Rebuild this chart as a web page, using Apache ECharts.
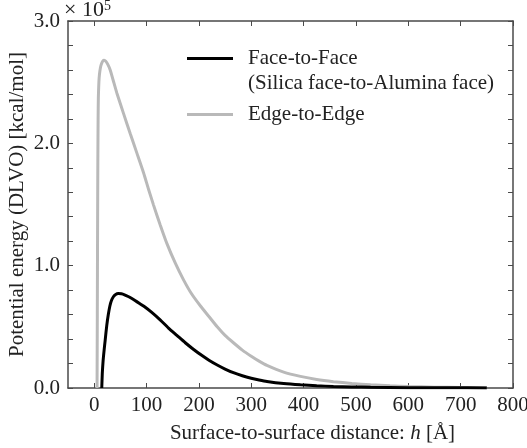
<!DOCTYPE html>
<html>
<head>
<meta charset="utf-8">
<script src="https://cdn.jsdelivr.net/npm/echarts@6/dist/echarts.min.js"></script>
<style>html,body{margin:0;padding:0;background:#fff}#c{width:527px;height:448px}</style>
</head>
<body>
<div id="c"></div>
<script>
// Surface-to-surface distance h [Å] and potential energy (×10^5 kcal/mol)
var faceH = [14.5, 15.5, 17, 19, 21, 24, 27, 30, 33, 37, 41, 46, 52, 58, 65, 72, 78, 86, 95, 110, 126, 142, 158, 174, 190, 206, 220, 235, 250, 266, 283, 300, 315, 330, 362, 394, 425, 457, 492, 528, 600, 680, 750];
var faceV = [0, 0.12, 0.22, 0.31, 0.39, 0.51, 0.60, 0.67, 0.715, 0.748, 0.765, 0.772, 0.77, 0.762, 0.748, 0.731, 0.715, 0.693, 0.668, 0.618, 0.557, 0.49, 0.43, 0.37, 0.315, 0.265, 0.225, 0.188, 0.155, 0.125, 0.10, 0.08, 0.066, 0.054, 0.037, 0.026, 0.018, 0.013, 0.009, 0.006, 0.003, 0.0015, 0.001];
var edgeH = [5.5, 6, 6.5, 7, 7.5, 8, 9, 10, 12, 14, 16.5, 19, 22, 26, 30.6, 36, 43.4, 56, 68.8, 81.6, 94.3, 103.8, 113.4, 126, 139, 155, 170.7, 186, 203, 220, 235, 250, 266, 283, 300, 315, 330, 362, 394, 425, 457, 492, 528, 565, 600, 650, 700, 750];
var edgeV = [0, 0.6, 1.3, 1.85, 2.2, 2.38, 2.5, 2.56, 2.62, 2.65, 2.673, 2.68, 2.672, 2.645, 2.60, 2.52, 2.41, 2.245, 2.08, 1.92, 1.76, 1.625, 1.495, 1.335, 1.18, 1.02, 0.884, 0.77, 0.67, 0.58, 0.50, 0.43, 0.37, 0.31, 0.26, 0.22, 0.185, 0.13, 0.095, 0.07, 0.052, 0.037, 0.026, 0.018, 0.012, 0.007, 0.004, 0.002];
var xTicks = [0, 100, 200, 300, 400, 500, 600, 700, 800];
var yLabelValues = [0, 1, 2, 3];
var seriesNames = ['Face-to-Face', 'Edge-to-Edge'];
var faceSubtitle = '(Silica face-to-Alumina face)';

function pairs(h, v) { return h.map(function (x, i) { return [x, v[i]]; }); }

var FONT = 'Liberation Serif';
var FS = 21;
var AXC = '#4a4a4a';
var TXT = '#222';
var chart = echarts.init(document.getElementById('c'));
var yLabelFmt = function (v) {
  for (var i = 0; i < yLabelValues.length; i++) if (Math.abs(v - yLabelValues[i]) < 1e-6) return v.toFixed(1);
  return '';
};
chart.setOption({
  animation: false,
  backgroundColor: '#fff',
  grid: { left: 68, right: 14, top: 21, bottom: 60, containLabel: false, outerBoundsMode: 'none' },
  graphic: [
    { type: 'text', left: 64, top: -1, style: { text: '× 10{s|5}', font: '22px "Liberation Serif"', fill: TXT,
      rich: { s: { fontSize: 14, fontFamily: FONT, verticalAlign: 'top', padding: [0, 0, 9, 0] } } } },
    { type: 'text', left: 248, top: 73, style: { text: faceSubtitle, font: FS + 'px "Liberation Serif"', fill: TXT } }
  ],
  legend: [
    { data: [seriesNames[0]], left: 182, top: 43, itemWidth: 46, itemHeight: 3, icon: 'rect',
      textStyle: { fontFamily: FONT, fontSize: FS, color: TXT, padding: [0, 0, 0, 10] } },
    { data: [seriesNames[1]], left: 182, top: 99, itemWidth: 46, itemHeight: 3, icon: 'rect',
      textStyle: { fontFamily: FONT, fontSize: FS, color: TXT, padding: [0, 0, 0, 10] } }
  ],
  xAxis: [
    { type: 'value', min: -50, max: 800, position: 'bottom',
      name: 'Surface-to-surface distance: {i|h} [Å]', nameLocation: 'middle', nameGap: 35,
      nameTextStyle: { fontFamily: FONT, fontSize: FS, color: TXT, padding: [0, 0, 0, 44],
        rich: { i: { fontStyle: 'italic', fontFamily: FONT, fontSize: FS } } },
      axisLine: { onZero: false, lineStyle: { color: AXC, width: 1.5 } },
      axisTick: { inside: true, length: 5, customValues: xTicks, lineStyle: { color: AXC } },
      axisLabel: { customValues: xTicks, fontFamily: FONT, fontSize: FS, color: TXT, margin: 7 },
      splitLine: { show: false } },
    { type: 'value', min: -50, max: 800, position: 'top',
      axisLine: { onZero: false, lineStyle: { color: AXC, width: 1.5 } },
      axisTick: { inside: true, length: 5, customValues: xTicks, lineStyle: { color: AXC } },
      axisLabel: { show: false }, splitLine: { show: false } }
  ],
  yAxis: [
    { type: 'value', min: 0, max: 3, interval: 0.2, position: 'left',
      name: 'Potential energy (DLVO) [kcal/mol]', nameLocation: 'middle', nameGap: 40, nameMoveOverlap: false,
      nameTextStyle: { fontFamily: FONT, fontSize: FS, color: TXT },
      axisLine: { show: true, onZero: false, lineStyle: { color: AXC, width: 1.5 } },
      axisTick: { show: true, inside: true, length: 5, lineStyle: { color: AXC } },
      axisLabel: { formatter: yLabelFmt, fontFamily: FONT, fontSize: FS, color: TXT, margin: 8 },
      splitLine: { show: false } },
    { type: 'value', min: 0, max: 3, interval: 0.2, position: 'right',
      axisLine: { show: true, onZero: false, lineStyle: { color: AXC, width: 1.5 } },
      axisTick: { show: true, inside: true, length: 5, lineStyle: { color: AXC } },
      axisLabel: { show: false }, splitLine: { show: false } }
  ],
  series: [
    { name: seriesNames[1], type: 'line', data: pairs(edgeH, edgeV), smooth: 0.2, showSymbol: false,
      lineStyle: { color: '#b9b9b9', width: 3 }, itemStyle: { color: '#b9b9b9' }, z: 2 },
    { name: seriesNames[0], type: 'line', data: pairs(faceH, faceV), smooth: 0.2, showSymbol: false,
      lineStyle: { color: '#000', width: 3 }, itemStyle: { color: '#000' }, z: 3 }
  ]
});
</script>
</body>
</html>
